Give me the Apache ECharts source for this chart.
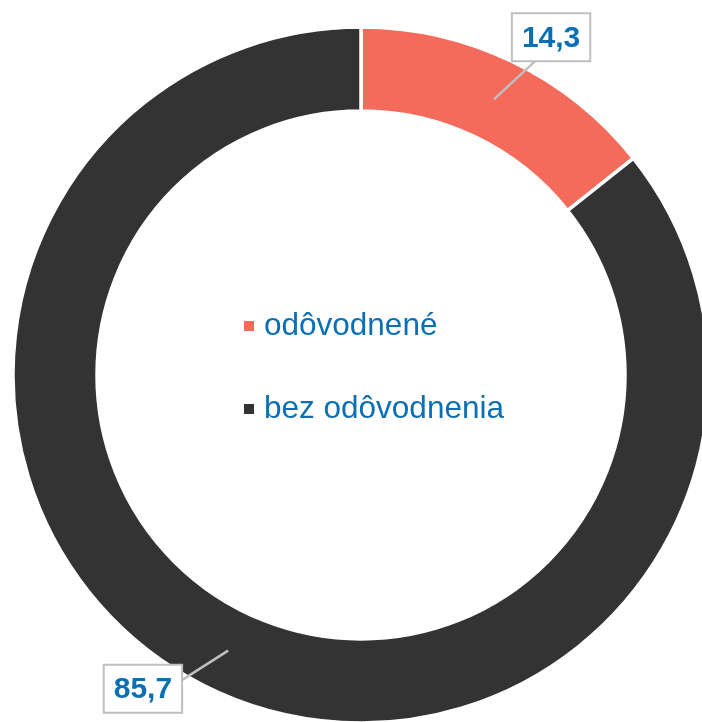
<!DOCTYPE html>
<html>
<head>
<meta charset="utf-8">
<script src="https://cdn.jsdelivr.net/npm/echarts@6/dist/echarts.min.js"></script>
<style>
html,body{margin:0;padding:0;background:#fff;}
#chart{width:702px;height:722px;}
</style>
</head>
<body>
<div id="chart"></div>
<script>
const categories = ['odôvodnené', 'bez odôvodnenia'];
const values = [14.3, 85.7];
const colors = ['#F46A5B', '#333333'];

const chart = echarts.init(document.getElementById('chart'));
const data = categories.map((c, i) => ({ name: c, value: values[i], itemStyle: { color: colors[i] } }));

chart.setOption({
  animation: false,
  legend: {
    orient: 'vertical',
    left: 242,
    top: 310,
    padding: 0,
    itemWidth: 12,
    itemHeight: 12,
    itemGap: 51,
    icon: 'rect',
    textStyle: { color: '#0B6FB4', fontSize: 31.5, lineHeight: 32, fontFamily: 'Liberation Sans, Arial, sans-serif', padding: [0, 0, 0, 4] },
    data: categories
  },
  series: [
    {
      type: 'pie',
      radius: [264, 348],
      center: [361, 375],
      startAngle: 90,
      clockwise: true,
      silent: true,
      itemStyle: { borderColor: '#fff', borderWidth: 3.5 },
      label: { show: false },
      labelLine: { show: false },
      data: data
    },
    {
      type: 'pie',
      radius: [0, 306],
      center: [361, 375],
      startAngle: 90,
      clockwise: true,
      silent: true,
      z: 5,
      legendHoverLink: false,
      itemStyle: { color: 'rgba(0,0,0,0)', borderWidth: 0 },
      label: {
        show: true,
        position: 'outside',
        formatter: p => String(p.value).replace('.', ','),
        color: '#0B6FB4',
        fontSize: 30,
        fontWeight: 'bold',
        fontFamily: 'Liberation Sans, Arial, sans-serif',
        lineHeight: 32,
        backgroundColor: '#fff',
        borderColor: '#BFBFBF',
        borderWidth: 2,
        padding: [8, 9, 6, 9]
      },
      labelLine: { show: true, length: 10, length2: 10, lineStyle: { color: '#BFBFBF', width: 2.5 } },
      labelLayout: function (params) {
        const pts = params.labelLinePoints;
        if (!pts) return {};
        const s = pts[0];
        if (params.dataIndex === 0) {
          const end = [s[0] + 42, s[1] - 39];
          return { x: s[0] + 19, y: s[1] - 39, align: 'left', verticalAlign: 'bottom', labelLinePoints: [s, end, end] };
        } else {
          const end = [s[0] - 47, s[1] + 30];
          return { x: s[0] - 47, y: s[1] + 15, align: 'right', verticalAlign: 'top', labelLinePoints: [s, end, end] };
        }
      },
      data: categories.map((c, i) => ({ name: c, value: values[i] }))
    }
  ]
});
</script>
</body>
</html>
